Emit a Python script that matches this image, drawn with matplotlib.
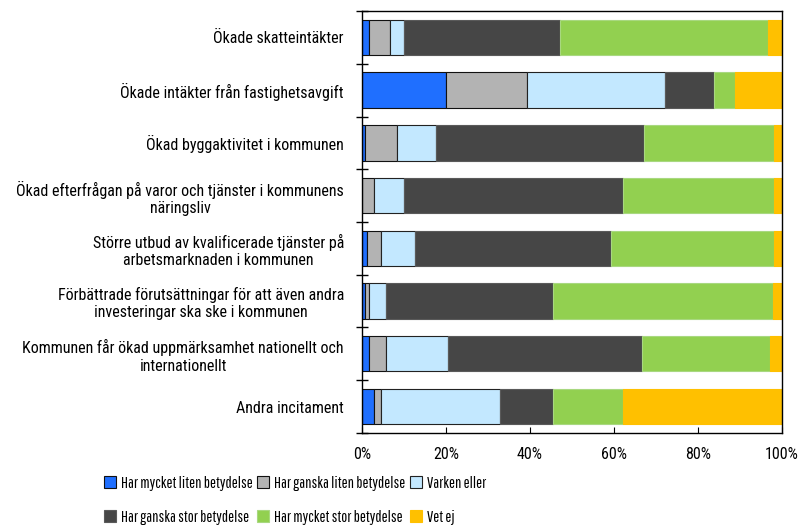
import matplotlib.pyplot as plt
import numpy as np

plt.rcParams['font.family'] = ['Roboto Condensed', 'DejaVu Sans']

categories = ["Ökade skatteintäkter",
              "Ökade intäkter från fastighetsavgift",
              "Ökad byggaktivitet i kommunen",
              "Ökad efterfrågan på varor och tjänster i kommunens\nnäringsliv",
              "Större utbud av kvalificerade tjänster på\narbetsmarknaden i kommunen",
              "Förbättrade förutsättningar för att även andra\ninvesteringar ska ske i kommunen",
              "Kommunen får ökad uppmärksamhet nationellt och\ninternationellt",
              "Andra incitament"]

series_names = ["Har mycket liten betydelse", "Har ganska liten betydelse", "Varken eller",
                "Har ganska stor betydelse", "Har mycket stor betydelse", "Vet ej"]

mycket_liten = [1.6, 19.9, 0.6, 0.0, 1.2, 0.6, 1.7, 2.8]
ganska_liten = [5.1, 19.5, 7.7, 2.8, 3.2, 1.1, 3.9, 1.6]
varken = [3.3, 32.8, 9.4, 7.2, 8.3, 3.9, 14.9, 28.4]
ganska_stor = [37.2, 11.7, 49.5, 52.2, 46.7, 40.0, 46.2, 12.8]
mycket_stor = [49.5, 5.0, 31.0, 36.0, 38.8, 52.2, 30.5, 16.6]
vet_ej = [3.3, 11.1, 1.8, 1.8, 1.8, 2.2, 2.8, 37.8]

colors = ["#1F6FFF", "#B3B3B3", "#C3E8FF", "#464646", "#92D050", "#FFC000"]
edges = ["#111111", "#111111", "#222222", "#5a5a5a", "#a8d880", "#FFC000"]

fig = plt.figure(figsize=(8.01, 5.26), dpi=100)
ax = fig.add_axes([0.452, 0.177, 0.524, 0.802])

y = np.arange(len(categories))
data = [mycket_liten, ganska_liten, varken, ganska_stor, mycket_stor, vet_ej]
left = np.zeros(len(categories))
handles = []
for vals, name, c, ec in zip(data, series_names, colors, edges):
    b = ax.barh(y, vals, left=left, height=0.67, color=c, edgecolor=ec, linewidth=0.8, label=name)
    handles.append(b)
    left += np.array(vals)

ax.set_xlim(0, 100)
ax.set_ylim(len(categories) - 0.5, -0.5)
ax.set_xticks([0, 20, 40, 60, 80, 100])
ax.set_xticklabels(["0%", "20%", "40%", "60%", "80%", "100%"], fontsize=11.5)
ax.tick_params(axis='x', direction='in', length=4, pad=10)

ax.set_yticks(y)
ax.set_yticklabels(categories, fontsize=11.5, multialignment='center')
ax.tick_params(axis='y', which='major', length=0, pad=13)
ax.set_yticks(np.arange(len(categories) + 1) - 0.5, minor=True)
ax.tick_params(axis='y', which='minor', direction='inout', length=8, width=1)

for s in ax.spines.values():
    s.set_linewidth(1)
    s.set_color("black")

order = [0, 3, 1, 4, 2, 5]
leg = fig.legend([handles[i] for i in order], [series_names[i] for i in order],
                 ncol=3, loc='lower left', bbox_to_anchor=(0.112, -0.025),
                 frameon=False, prop={'family': ['Pathway Gothic One', 'DejaVu Sans'], 'size': 11.5},
                 handlelength=0.75, handleheight=0.75,
                 handletextpad=0.3, columnspacing=0.3, labelspacing=1.2)

fig.savefig("out.png", dpi=100)
